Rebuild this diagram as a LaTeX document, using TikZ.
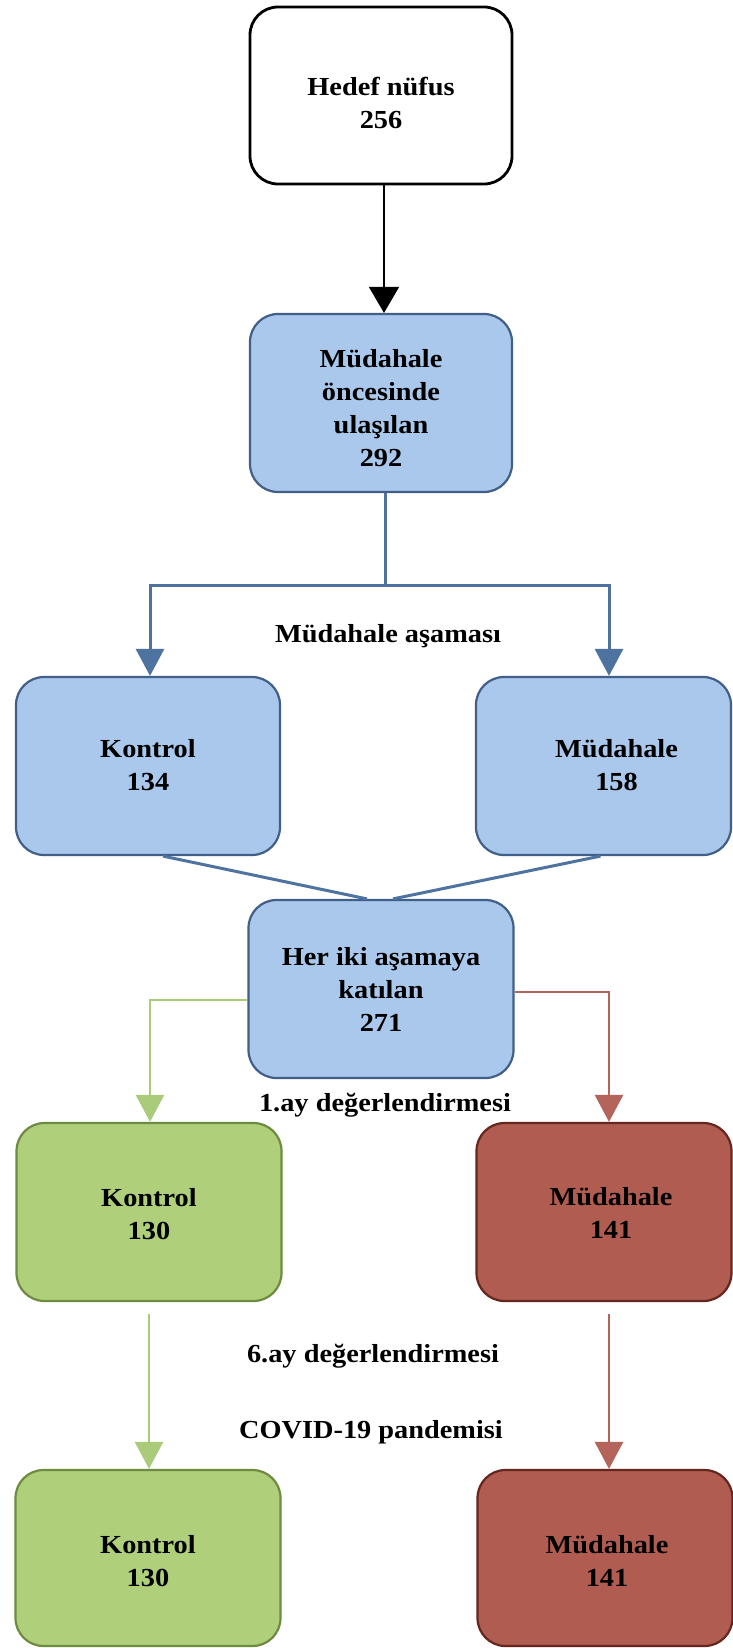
\documentclass[tikz,border=0pt]{standalone}
\usepackage{fontspec}
\setmainfont{Liberation Serif}[FakeStretch=1.09]
\usetikzlibrary{arrows.meta,calc}
\definecolor{bfill}{RGB}{169,200,236}
\definecolor{bdraw}{RGB}{65,95,135}
\definecolor{bline}{RGB}{79,115,160}
\definecolor{gfill}{RGB}{175,207,123}
\definecolor{gdraw}{RGB}{110,140,65}
\definecolor{gline}{RGB}{170,204,122}
\definecolor{rfill}{RGB}{176,92,80}
\definecolor{rdraw}{RGB}{100,38,30}
\definecolor{rline}{RGB}{180,100,90}
\newcommand{\dn}[2]{\raisebox{0pt}[\dimexpr\height+#1\relax][\depth]{\begin{tabular}{@{}c@{}}#2\end{tabular}}}
\begin{document}
\begin{tikzpicture}[x=1pt,y=-1pt,
  box/.style={rounded corners=28pt, minimum height=178pt, align=center,
    font=\fontsize{26}{33}\selectfont\bfseries, inner sep=0pt},
  wbox/.style={box, draw=black, line width=2.8pt, fill=white},
  bbox/.style={box, draw=bdraw, line width=2.2pt, fill=bfill},
  gbox/.style={box, draw=gdraw, line width=2.2pt, fill=gfill},
  rbox/.style={box, draw=rdraw, line width=2.2pt, fill=rfill},
  lbl/.style={font=\fontsize{26}{33}\selectfont\bfseries, inner sep=0pt},
  blk/.style={draw=black, line width=1.6pt, -{Triangle[width=30pt,length=26pt]}},
  bl/.style={draw=bline, line width=3pt},
  bla/.style={bl, -{Triangle[width=28pt,length=27pt]}},
  gl/.style={draw=gline, line width=2.6pt, -{Triangle[width=28pt,length=27pt]}},
  rl/.style={draw=rline, line width=2.6pt, -{Triangle[width=28pt,length=27pt]}}
]
\useasboundingbox (0,0) rectangle (733,1648);
\fill[white] (0,0) rectangle (733,1648);

\node[wbox, minimum width=262pt, minimum height=177pt] (top) at (381,95.5) {\dn{20pt}{Hedef nüfus\\256}};
\node[bbox, minimum width=262pt] (pre) at (381,403) {\dn{14pt}{Müdahale\\öncesinde\\ulaşılan\\292}};
\node[bbox, minimum width=264pt] (k1) at (148,766) {\dn{2pt}{Kontrol\\134}};
\node[bbox, minimum width=255pt] (m1) at (603.5,766) {\dn{2pt}{\hspace*{26pt}Müdahale\\\hspace*{26pt}158}};
\node[bbox, minimum width=265pt] (both) at (381,989) {Her iki aşamaya\\katılan\\271};
\node[gbox, minimum width=265pt] (k2) at (149,1212) {\dn{8pt}{Kontrol\\130}};
\node[rbox, minimum width=255pt] (m2) at (604,1212) {\dn{6pt}{\hspace*{14pt}Müdahale\\\hspace*{14pt}141}};
\node[gbox, minimum width=265pt, minimum height=176pt] (k3) at (148,1558) {\dn{10pt}{Kontrol\\130}};
\node[rbox, minimum width=255pt, minimum height=176pt] (m3) at (605,1558) {\dn{10pt}{\hspace*{4pt}Müdahale\\\hspace*{4pt}141}};

\node[lbl] (l1) at (388,636) {Müdahale aşaması};
\node[lbl] (l2) at (385,1105) {1.ay değerlendirmesi};
\node[lbl] (l3) at (373,1356) {6.ay değerlendirmesi};
\node[lbl] (l4) at (371,1432) {COVID-19 pandemisi};

\draw[blk] ($(top.south)+(3,0)$) -- ($(pre.north)+(3,0)$);

\coordinate (sp) at ($(pre.south)+(4,92)$);
\draw[bl] ($(pre.south)+(4,0)$) -- (sp);
\draw[bla] (sp) -| ($(k1.north)+(2,0)$);
\draw[bla] (sp) -| ($(m1.north)+(5.5,0)$);

\draw[bl] ($(k1.south)+(15,0)$) -- ($(both.north)+(-14,0)$);
\draw[bl] ($(m1.south)+(-3,0)$) -- ($(both.north)+(12,0)$);

\draw[gl] ($(both.west)+(0,11)$) -| ($(k2.north)+(1,0)$);
\draw[rl] ($(both.east)+(0,3)$) -| ($(m2.north)+(5,0)$);

\draw[gl] ($(k2.south)+(0,12)$) -- ($(k3.north)+(1,0)$);
\draw[rl] ($(m2.south)+(5,12)$) -- ($(m3.north)+(4,0)$);
\end{tikzpicture}
\end{document}
